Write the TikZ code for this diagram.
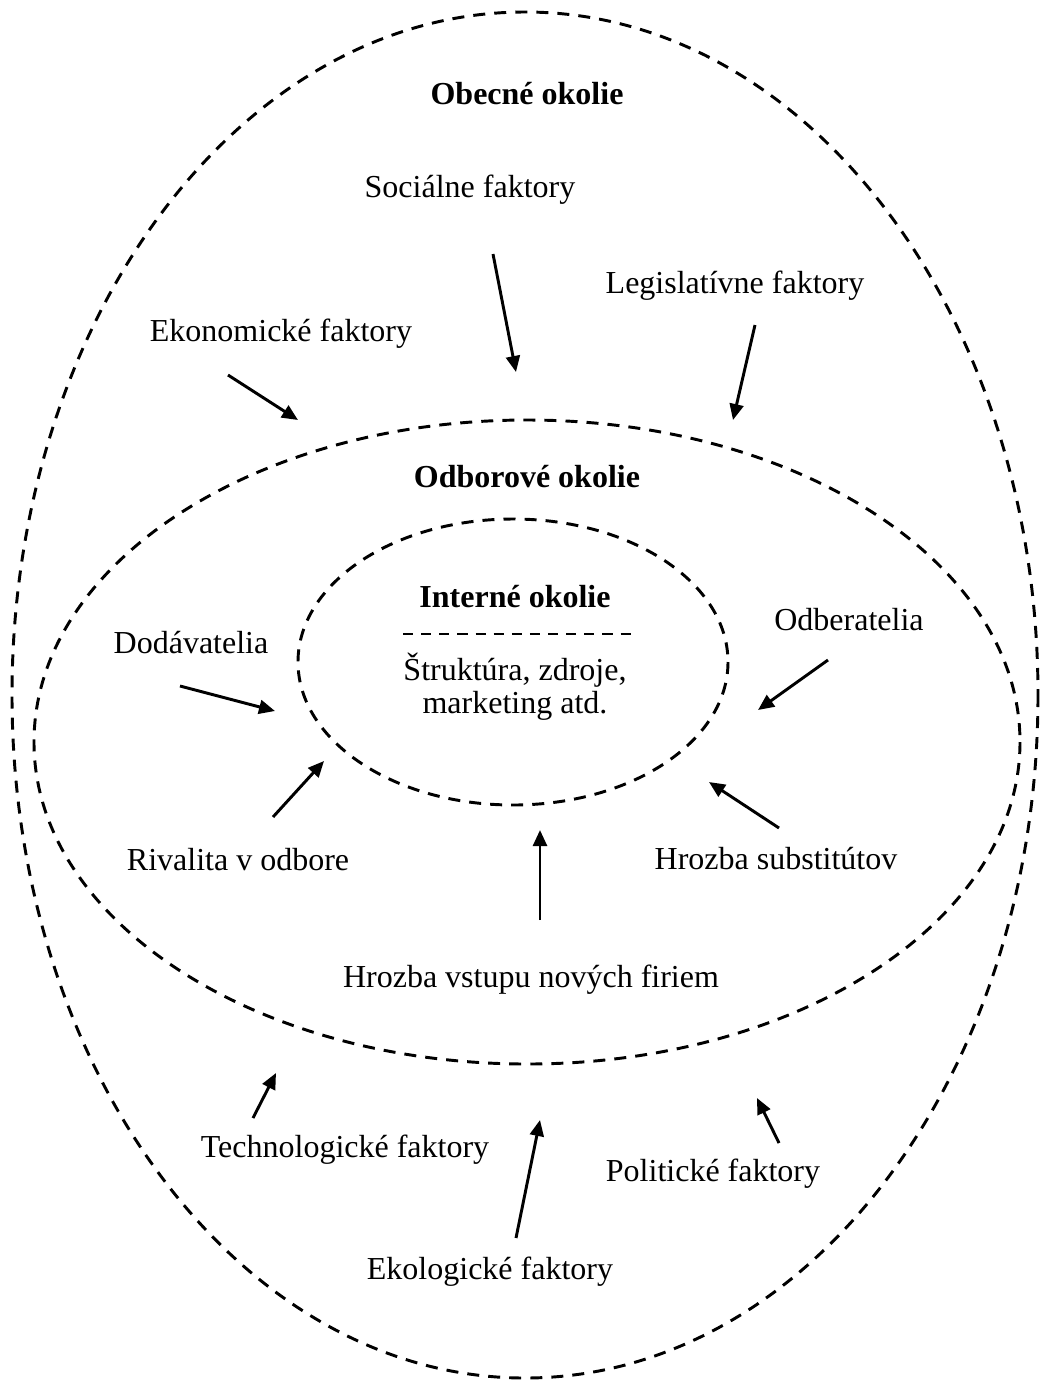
\documentclass[tikz,border=0pt]{standalone}
\usepackage{fontspec}
\setmainfont{Liberation Serif}
\usetikzlibrary{arrows.meta}

\begin{document}
\begin{tikzpicture}[
        x=0.375pt, y=-0.375pt,
        bound/.style={line width=1.1pt, dash pattern=on 4.5pt off 3.4pt},
        push/.style={line width=1.1pt, -{Triangle[length=6pt, width=5.2pt]}},
        lbl/.style={font=\fontsize{12}{12.4}\selectfont, anchor=base, inner sep=0pt},
        head/.style={lbl, font=\fontsize{12}{12.4}\selectfont\bfseries}
    ]
        \useasboundingbox (0,0) rectangle (1041,1383);

        % three environments
        \draw[bound] (525,695) ellipse [x radius=513, y radius=683];
        \draw[bound] (527,742) ellipse [x radius=493, y radius=322];
        \draw[bound] (513,662) ellipse [x radius=215, y radius=143];

        % titles
        \node[head] (obecne)   at (527,104) {Obecné okolie};
        \node[head] (odborove) at (527,487) {Odborové okolie};
        \node[head] (interne)  at (515,607) {Interné okolie};
        \coordinate (sepL) at (403,634);
        \coordinate (sepR) at (637,634);
        \draw[bound, line width=0.9pt, dash pattern=on 3.8pt off 3pt] (sepL) -- (sepR);
        \node[lbl] (struktura) at (515,680) {Štruktúra, zdroje,};
        \node[lbl] (marketing) at (515,713) {marketing atd.};

        % general factors
        \node[lbl] (socialne) at (470,197)  {Sociálne faktory};
        \node[lbl] (legis)    at (735,293)  {Legislatívne faktory};
        \node[lbl] (ekon)     at (281,341)  {Ekonomické faktory};
        \node[lbl] (techno)   at (345,1157) {Technologické faktory};
        \node[lbl] (polit)    at (713,1181) {Politické faktory};
        \node[lbl] (ekolog)   at (490,1279) {Ekologické faktory};

        % industry factors
        \node[lbl] (dodav)  at (191,653) {Dodávatelia};
        \node[lbl] (odber)  at (849,630) {Odberatelia};
        \node[lbl] (rival)  at (238,870) {Rivalita v odbore};
        \node[lbl] (subst)  at (776,869) {Hrozba substitútov};
        \node[lbl] (vstup)  at (531,987) {Hrozba vstupu nových firiem};

        % arrow ends
        \coordinate (ekonA)   at (228,375);  \coordinate (ekonB)   at (298,420);
        \coordinate (socA)    at (493,254);  \coordinate (socB)    at (516,372);
        \coordinate (legA)    at (755,325);  \coordinate (legB)    at (733,420);
        \coordinate (dodA)    at (180,686);  \coordinate (dodB)    at (275,711);
        \coordinate (odbA)    at (828,660);  \coordinate (odbB)    at (758,710);
        \coordinate (rivA)    at (273,817);  \coordinate (rivB)    at (324,761);
        \coordinate (subA)    at (779,828);  \coordinate (subB)    at (709,782);
        \coordinate (vstA)    at (540,920);  \coordinate (vstB)    at (540,830);
        \coordinate (tecA)    at (253,1118); \coordinate (tecB)    at (276,1073);
        \coordinate (ekoA)    at (516,1238); \coordinate (ekoB)    at (540,1120);
        \coordinate (polA)    at (779,1143); \coordinate (polB)    at (757,1098);

        \draw[push] (ekonA) -- (ekonB);
        \draw[push] (socA) -- (socB);
        \draw[push] (legA) -- (legB);
        \draw[push] (dodA) -- (dodB);
        \draw[push] (odbA) -- (odbB);
        \draw[push] (rivA) -- (rivB);
        \draw[push] (subA) -- (subB);
        \draw[push] (vstA) -- (vstB);
        \draw[push] (tecA) -- (tecB);
        \draw[push] (ekoA) -- (ekoB);
        \draw[push] (polA) -- (polB);
    \end{tikzpicture}
\end{document}
